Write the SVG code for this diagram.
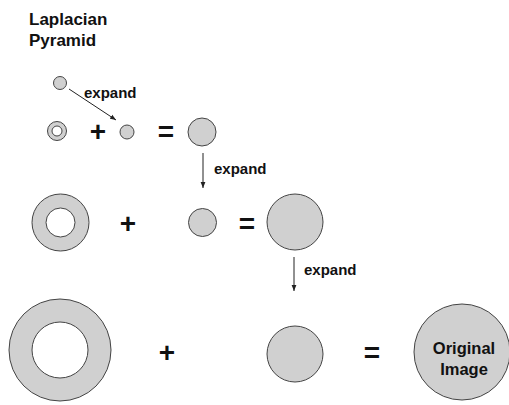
<svg xmlns="http://www.w3.org/2000/svg" width="509" height="405" viewBox="0 0 509 405">
<style>
.c{fill:#d0d0d0;stroke:#444;stroke-width:1}
.h{fill:#fff;stroke:#444;stroke-width:1}
.t{font-family:"Liberation Sans",Arial,sans-serif;font-weight:bold;fill:#111}
.op{font-family:"Liberation Sans",Arial,sans-serif;font-weight:bold;fill:#111;font-size:28px;text-anchor:middle}
.ln{stroke:#222;stroke-width:1;fill:none;marker-end:url(#ah)}
</style>
<defs>
<marker id="ah" viewBox="0 0 10 10" refX="10" refY="5" markerWidth="6" markerHeight="6" orient="auto" markerUnits="userSpaceOnUse">
<path d="M0,1 L10,5 L0,9 z" fill="#222"/>
</marker>
</defs>
<rect width="509" height="405" fill="#fff"/>
<g id="title">
<text class="t" x="29" y="25" font-size="17">Laplacian</text>
<text class="t" x="29" y="46" font-size="17">Pyramid</text>
</g>
<g id="connectors">
<line class="ln" x1="69" y1="89" x2="116" y2="120"/>
<text class="t" x="84" y="98" font-size="15">expand</text>
<line class="ln" x1="203" y1="153" x2="203" y2="188"/>
<text class="t" x="214" y="174" font-size="15">expand</text>
<line class="ln" x1="294" y1="257" x2="294" y2="291"/>
<text class="t" x="304" y="275" font-size="15">expand</text>
</g>
<g id="g0"><circle class="c" cx="60" cy="83" r="6.5"/></g>
<g id="l0"><circle class="c" cx="57" cy="131" r="9.5"/><circle class="h" cx="57" cy="131" r="5"/></g>
<g id="plus1"><text class="op" x="98" y="141">+</text></g>
<g id="e0"><circle class="c" cx="127" cy="132" r="7"/></g>
<g id="eq1"><text class="op" x="166" y="141">=</text></g>
<g id="g1"><circle class="c" cx="202" cy="132" r="14"/></g>
<g id="l1"><circle class="c" cx="60.5" cy="222.5" r="28.5"/><circle class="h" cx="60.5" cy="222.5" r="14.5"/></g>
<g id="plus2"><text class="op" x="128" y="233">+</text></g>
<g id="e1"><circle class="c" cx="202.5" cy="222.5" r="14"/></g>
<g id="eq2"><text class="op" x="247" y="233">=</text></g>
<g id="g2"><circle class="c" cx="295" cy="222" r="28"/></g>
<g id="l2"><circle class="c" cx="60" cy="350" r="51"/><circle class="h" cx="60" cy="350" r="28"/></g>
<g id="plus3"><text class="op" x="167" y="362">+</text></g>
<g id="e2"><circle class="c" cx="295" cy="354" r="28"/></g>
<g id="eq3"><text class="op" x="372" y="362">=</text></g>
<g id="orig">
<circle class="c" cx="462" cy="352" r="48"/>
<text class="t" x="464" y="354" font-size="16.5" text-anchor="middle">Original</text>
<text class="t" x="464" y="375" font-size="16.5" text-anchor="middle">Image</text>
</g>
</svg>
